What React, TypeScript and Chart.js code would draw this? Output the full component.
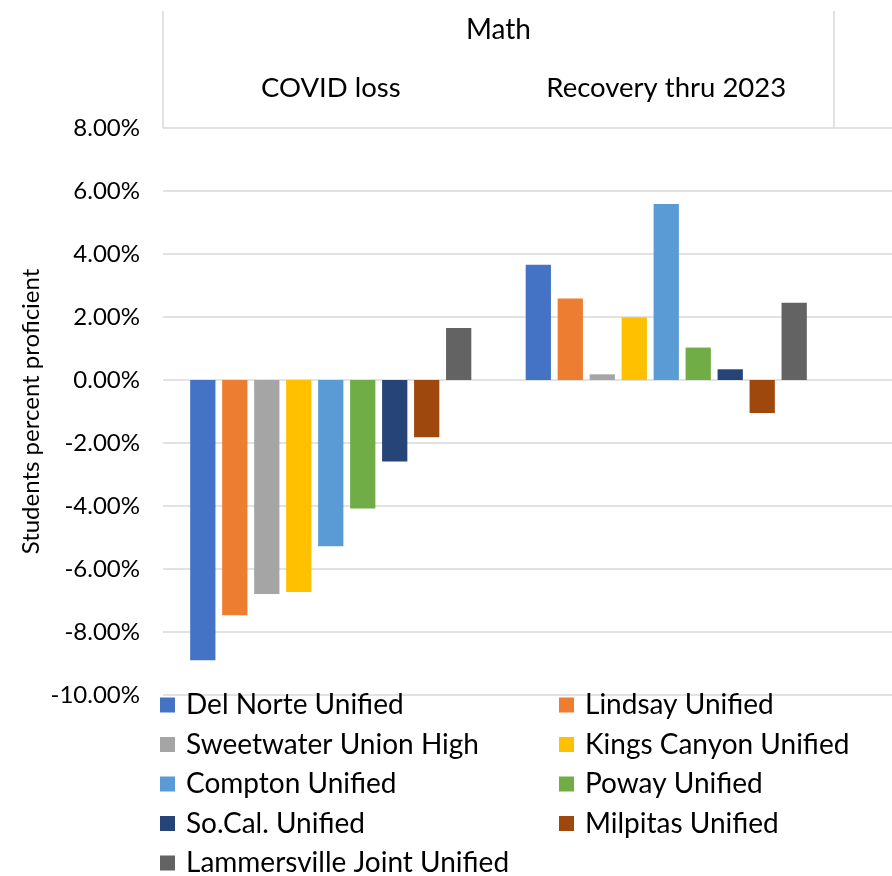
import React, { useEffect, useRef } from "react";
import { Chart, registerables } from "chart.js";

Chart.register(...registerables);

const groupTitle = "Math";
const categories = ["COVID loss", "Recovery thru 2023"];
const seriesNames = [
  "Del Norte Unified",
  "Lindsay Unified",
  "Sweetwater Union High",
  "Kings Canyon Unified",
  "Compton Unified",
  "Poway Unified",
  "So.Cal. Unified",
  "Milpitas Unified",
  "Lammersville Joint Unified",
];
const seriesColors = [
  "#4472C4",
  "#ED7D31",
  "#A5A5A5",
  "#FFC000",
  "#5B9BD5",
  "#70AD47",
  "#264478",
  "#9E480E",
  "#636363",
];
const delNorte = [-8.9, 3.66];
const lindsay = [-7.47, 2.59];
const sweetwater = [-6.79, 0.18];
const kingsCanyon = [-6.73, 1.99];
const compton = [-5.28, 5.59];
const poway = [-4.08, 1.03];
const soCal = [-2.59, 0.34];
const milpitas = [-1.82, -1.05];
const lammersville = [1.65, 2.45];
const seriesValues = [delNorte, lindsay, sweetwater, kingsCanyon, compton, poway, soCal, milpitas, lammersville];
const yMin = -10;
const yMax = 8;
const yStep = 2;
const yTitle = "Students percent proficient";

const FONT = "Lato, Carlito, Calibri, sans-serif";
const GRID = "#d9d9d9";

const gridPlugin = {
  id: "extGrid",
  beforeDatasetsDraw(chart: any) {
    const { ctx, chartArea, scales } = chart;
    const y = scales.y;
    ctx.save();
    ctx.strokeStyle = GRID;
    ctx.lineWidth = 1.5;
    y.ticks.forEach((_t: any, i: number) => {
      const py = Math.round(y.getPixelForTick(i));
      ctx.beginPath();
      ctx.moveTo(chartArea.left, py);
      ctx.lineTo(chart.width, py);
      ctx.stroke();
    });
    ctx.restore();
  },
};

const headerPlugin = {
  id: "header",
  afterDraw(chart: any) {
    const { ctx, chartArea, scales } = chart;
    ctx.save();
    ctx.strokeStyle = GRID;
    ctx.lineWidth = 1.5;
    [chartArea.left, chartArea.right].forEach((x: number) => {
      ctx.beginPath();
      ctx.moveTo(Math.round(x), 11);
      ctx.lineTo(Math.round(x), chartArea.top);
      ctx.stroke();
    });
    ctx.fillStyle = "#000";
    ctx.textAlign = "center";
    ctx.textBaseline = "middle";
    ctx.font = `28px ${FONT}`;
    ctx.fillText(groupTitle, (chartArea.left + chartArea.right) / 2, 30);
    ctx.font = `27.5px ${FONT}`;
    categories.forEach((c, i) => {
      ctx.fillText(c, scales.x.getPixelForValue(i), 88);
    });
    ctx.restore();
  },
};

const legendPlugin = {
  id: "gridLegend",
  afterDraw(chart: any) {
    const { ctx, chartArea } = chart;
    ctx.save();
    ctx.font = `28px ${FONT}`;
    ctx.textBaseline = "middle";
    ctx.textAlign = "left";
    chart.data.datasets.forEach((ds: any, i: number) => {
      const col = i % 2;
      const row = Math.floor(i / 2);
      const bx = col === 0 ? chartArea.left - 3 : chartArea.left + 396;
      const cy = chartArea.bottom + 10 + row * 39.5;
      ctx.fillStyle = ds.backgroundColor;
      ctx.fillRect(bx, cy - 7.5, 15, 15);
      ctx.fillStyle = "#000";
      ctx.fillText(ds.label, bx + 26, cy);
    });
    ctx.restore();
  },
};

export default function App() {
  const ref = useRef<HTMLCanvasElement>(null);
  useEffect(() => {
    if (!ref.current) return;
    const chart = new Chart(ref.current, {
      type: "bar",
      data: {
        labels: categories,
        datasets: seriesNames.map((name, i) => ({
          label: name,
          data: seriesValues[i],
          backgroundColor: seriesColors[i],
          borderWidth: 0,
          categoryPercentage: 0.858,
          barPercentage: 0.79,
        })),
      },
      options: {
        animation: false,
        responsive: false,
        maintainAspectRatio: false,
        layout: { padding: { left: 0, right: 58, top: 128, bottom: 181 } },
        plugins: { legend: { display: false }, tooltip: { enabled: false } },
        scales: {
          x: { display: false },
          y: {
            min: yMin,
            max: yMax,
            grid: { display: false },
            border: { display: false },
            afterFit(scale: any) {
              scale.width = 163;
            },
            ticks: {
              stepSize: yStep,
              padding: 15,
              color: "#000",
              font: { family: FONT, size: 24 },
              callback: (v: any) => `${Number(v).toFixed(2)}%`,
            },
            title: {
              display: true,
              text: yTitle,
              color: "#000",
              font: { family: FONT, size: 24 },
              padding: { top: 17, bottom: 0 },
            },
          },
        },
      },
      plugins: [gridPlugin, headerPlugin, legendPlugin],
    });
    return () => chart.destroy();
  }, []);
  return (
    <div style={{ position: "fixed", left: 0, top: 0, width: 892, height: 876, background: "#fff" }}>
      <canvas ref={ref} width={892} height={876} style={{ width: 892, height: 876 }} />
    </div>
  );
}
